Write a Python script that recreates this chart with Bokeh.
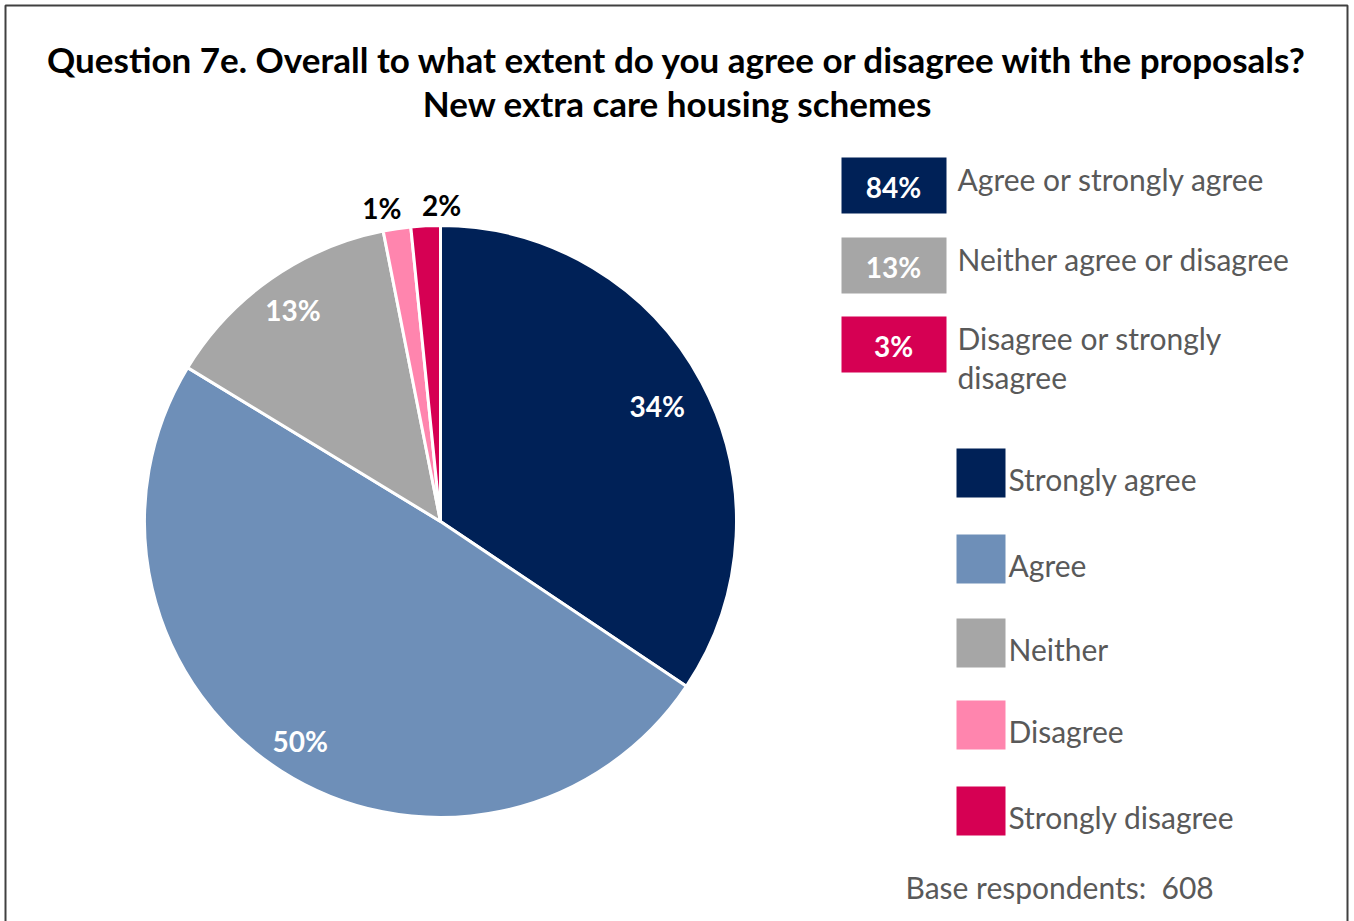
import numpy as np
from bokeh.plotting import figure
from bokeh.models import Range1d
from bokeh.embed import file_html
from bokeh.resources import INLINE
from bokeh.core.properties import value

# ---------------- data ----------------
title_lines = ["Question 7e. Overall to what extent do you agree or disagree with the proposals?",
               "New extra care housing schemes"]
categories = ["Strongly agree", "Agree", "Neither", "Disagree", "Strongly disagree"]
shares = [34.4, 49.3, 13.2, 1.5, 1.6]
slice_labels = ["34%", "50%", "13%", "1%", "2%"]
colors = ["#002157", "#6E8FB8", "#A6A6A6", "#FF85AE", "#D60053"]
summary_values = ["84%", "13%", "3%"]
summary_labels = [["Agree or strongly agree"], ["Neither agree or disagree"], ["Disagree or strongly", "disagree"]]
summary_colors = ["#002157", "#A6A6A6", "#D60053"]
base_respondents = 608

# ---------------- layout ----------------
W, H = 1354, 921
FONT = "Lato"
TXT_GREY = "#595959"

def Y(py):
    return H - py

p = figure(width=W, height=H, output_backend="svg", toolbar_location=None,
           x_range=Range1d(0, W), y_range=Range1d(0, H), min_border=0)
p.axis.visible = False
p.grid.visible = False
p.outline_line_color = None
p.background_fill_color = "white"
p.border_fill_color = "white"

# frame
p.quad(left=[5], right=[1347], bottom=[-20], top=[Y(5)], fill_color=None,
       line_color="#404040", line_width=2)

# title
for i, t in enumerate(title_lines):
    p.text(x=[677], y=[Y(58 + 44 * i)], text=[t], text_align="center", text_baseline="middle",
           text_font=value(FONT), text_font_style="bold", text_font_size="35px", text_color="black")

# pie
cx, cy, R = 440, Y(521), 296
vals = np.array(shares, dtype=float)
frac = vals / vals.sum()
cum = np.concatenate([[0], np.cumsum(frac)])
start = np.pi / 2 - 2 * np.pi * cum[:-1]
end = np.pi / 2 - 2 * np.pi * cum[1:]
p.wedge(x=cx, y=cy, radius=R, start_angle=start, end_angle=end, direction="clock",
        fill_color=colors, line_color="white", line_width=3)

mid = np.pi / 2 - 2 * np.pi * (cum[:-1] + frac / 2)
rf = [0.83, 0.88, 0.87, 1.07, 1.07]
lab_colors = ["white", "white", "white", "black", "black"]
dxn = [0, 0, 0, -12, 17]
for i in range(len(categories)):
    lx = cx + rf[i] * R * np.cos(mid[i]) + dxn[i]
    ly = cy + rf[i] * R * np.sin(mid[i])
    p.text(x=[lx], y=[ly], text=[slice_labels[i]], text_align="center", text_baseline="middle",
           text_font=value(FONT), text_font_style="bold", text_font_size="28px",
           text_color=lab_colors[i])

# summary legend
box_tops = [157, 237, 316]
for i in range(3):
    top = box_tops[i]
    p.quad(left=[841], right=[946], top=[Y(top)], bottom=[Y(top + 56)],
           fill_color=summary_colors[i], line_color=None)
    p.text(x=[893], y=[Y(top + 29)], text=[summary_values[i]], text_align="center",
           text_baseline="middle", text_font=value(FONT), text_font_style="bold",
           text_font_size="28px", text_color="white")
    for j, line in enumerate(summary_labels[i]):
        p.text(x=[957], y=[Y(top + 21 + 39 * j)], text=[line], text_align="left",
               text_baseline="middle", text_font=value(FONT), text_font_size="30px",
               text_color=TXT_GREY)

# category legend
leg_tops = [448, 534, 618, 700, 786]
for i, c in enumerate(categories):
    t = leg_tops[i]
    p.quad(left=[956], right=[1005], top=[Y(t)], bottom=[Y(t + 49)],
           fill_color=colors[i], line_color=None)
    p.text(x=[1008], y=[Y(t + 30)], text=[c], text_align="left", text_baseline="middle",
           text_font=value(FONT), text_font_size="30px", text_color=TXT_GREY)

# base
p.text(x=[905], y=[Y(886)], text=["Base respondents:\u00a0 %d" % base_respondents], text_align="left",
       text_baseline="middle", text_font=value(FONT), text_font_size="30px", text_color=TXT_GREY)

open("out.html", "w").write(file_html(p, INLINE))
